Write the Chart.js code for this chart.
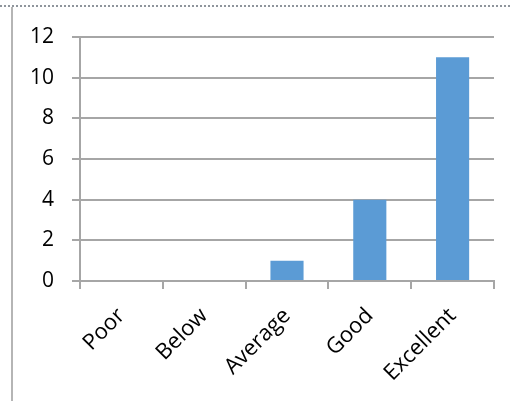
<!DOCTYPE html>
<html>
<head>
<meta charset="utf-8">
<script src="https://cdn.jsdelivr.net/npm/chart.js@4/dist/chart.umd.min.js"></script>
<style>
  html, body { margin: 0; padding: 0; background: #fff; }
  #wrap { position: relative; width: 510px; height: 401px; overflow: hidden; }
  #topRule {
    position: absolute; left: 0; right: 0; top: 5px; height: 0;
    border-top: 2px dotted #8f959c;
  }
  #leftRule {
    position: absolute; left: 11px; top: 7px; bottom: 0; width: 0;
    border-left: 2px solid #b5b5b5;
  }
  canvas { position: absolute; left: 0; top: 0; }
</style>
</head>
<body>
<div id="wrap">
  <div id="topRule"></div>
  <div id="leftRule"></div>
  <canvas id="c" width="510" height="401"></canvas>
</div>
<script>
const categories = ["Poor", "Below", "Average", "Good", "Excellent"];
const counts = [0, 0, 1, 4, 11];
const yTicks = [0, 2, 4, 6, 8, 10, 12];

const axisGrey = "#a6a6a6";
const fontFamily = "'Open Sans', 'Liberation Sans', sans-serif";

new Chart(document.getElementById("c"), {
  type: "bar",
  data: {
    labels: categories,
    datasets: [{
      data: counts,
      backgroundColor: "#5b9bd5",
      borderWidth: 0,
      barPercentage: 0.4,
      categoryPercentage: 1.0
    }]
  },
  options: {
    responsive: false,
    animation: false,
    layout: { padding: { top: 37, right: 16, left: 0, bottom: 0 } },
    plugins: { legend: { display: false }, tooltip: { enabled: false } },
    scales: {
      x: {
        grid: { display: true, offset: true, drawOnChartArea: false, tickLength: 8, color: axisGrey, lineWidth: 2 },
        border: { color: axisGrey, width: 2 },
        ticks: {
          color: "#000",
          font: { family: fontFamily, size: 22 },
          minRotation: 45,
          maxRotation: 45,
          padding: 14
        },
        afterFit(axis) { axis.height = 120; }
      },
      y: {
        min: 0,
        max: 12,
        afterBuildTicks(axis) { axis.ticks = yTicks.map(v => ({ value: v })); },
        grid: { color: axisGrey, lineWidth: 2, tickLength: 8 },
        border: { color: axisGrey, width: 2 },
        ticks: { color: "#000", font: { family: fontFamily, size: 21 }, padding: 18 },
        afterFit(axis) { axis.width = 80; }
      }
    }
  }
});
</script>
</body>
</html>
